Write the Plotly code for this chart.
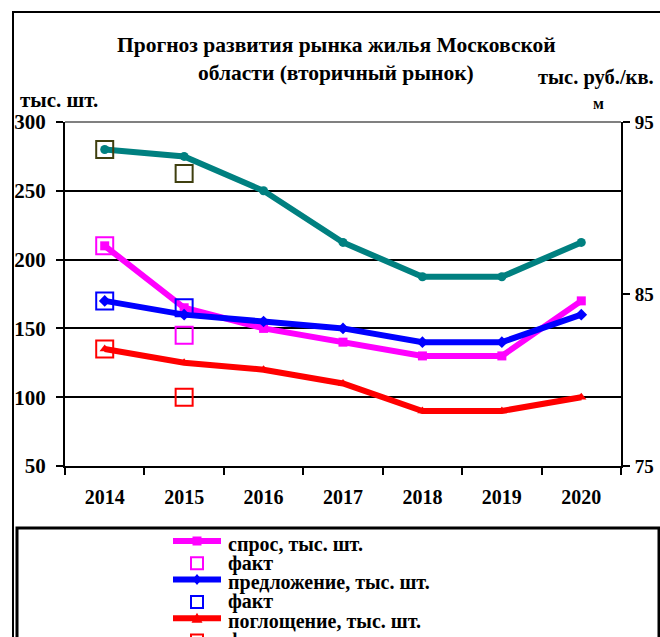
import plotly.graph_objects as go

years = ["2014", "2015", "2016", "2017", "2018", "2019", "2020"]
fact_years = ["2014", "2015"]

demand = [210, 165, 150, 140, 130, 130, 170]
demand_fact = [210, 145]
supply = [170, 160, 155, 150, 140, 140, 160]
supply_fact = [170, 165]
absorption = [135, 125, 120, 110, 90, 90, 100]
absorption_fact = [135, 100]
price = [93.4, 93.0, 91.0, 88.0, 86.0, 86.0, 88.0]
price_fact = [93.4, 92.0]

left_ticks = [50, 100, 150, 200, 250, 300]
right_ticks = [75, 85, 95]

# only the legend rows visible inside the 637px-high picture
legend_labels = ["спрос, тыс. шт.", "факт", "предложение, тыс. шт.", "факт",
                 "поглощение, тыс. шт.", "факт"]

FONT = "Liberation Serif"
MAG, BLU, RED, TEAL, OLIVE = "#FF00FF", "#0000FF", "#FF0000", "#008080", "#3F3F0F"

# plot area in pixels
PL, PR, PT, PB = 65, 621, 122, 466
PW, PH = PR - PL, PB - PT


def px(x):
    return (x - PL) / PW


def py(y):
    return (PB - y) / PH


fig = go.Figure()


def line(name, y, color, symbol, axis="y"):
    fig.add_trace(go.Scatter(
        x=years, y=y, name=name, mode="lines+markers", yaxis=axis,
        line=dict(color=color, width=6),
        marker=dict(symbol=symbol, size=9, color=color),
    ))


def fact(y, color, axis="y"):
    fig.add_trace(go.Scatter(
        x=fact_years, y=y, name="факт", mode="markers", yaxis=axis,
        marker=dict(symbol="square-open", size=17, color=color, line=dict(width=2, color=color)),
    ))


line("спрос, тыс. шт.", demand, MAG, "square")
fact(demand_fact, MAG)
line("предложение, тыс. шт.", supply, BLU, "diamond")
fact(supply_fact, BLU)
line("поглощение, тыс. шт.", absorption, RED, "triangle-up")
fact(absorption_fact, RED)
line("цена, тыс. руб./кв. м", price, TEAL, "circle", axis="y2")
fact(price_fact, OLIVE, axis="y2")

fig.update_layout(
    width=660, height=637,
    margin=dict(l=PL, r=660 - PR, t=PT, b=637 - PB, autoexpand=False),
    paper_bgcolor="white", plot_bgcolor="white",
    font=dict(family=FONT, size=18, color="black"),
    showlegend=False,
    xaxis=dict(
        type="category", range=[-0.5, 6.5],
        showline=True, linecolor="black", linewidth=2,
        ticks="outside", tickson="boundaries", ticklen=7, tickwidth=2, tickcolor="black",
        ticklabelstandoff=12,
        tickfont=dict(family=FONT, size=20, color="black", weight="bold"),
        showgrid=False,
    ),
    yaxis=dict(
        range=[50, 300], tickvals=left_ticks,
        showline=True, linecolor="black", linewidth=2,
        ticks="outside", ticklen=7, tickwidth=2, tickcolor="black",
        ticklabelstandoff=6,
        tickfont=dict(family=FONT, size=21, color="black", weight="bold"),
        showgrid=True, gridcolor="black", gridwidth=2, zeroline=False,
    ),
    yaxis2=dict(
        range=[75, 95], tickvals=right_ticks, overlaying="y", side="right",
        showline=True, linecolor="black", linewidth=2,
        ticks="outside", ticklen=7, tickwidth=2, tickcolor="black",
        ticklabelstandoff=1,
        tickfont=dict(family=FONT, size=19, color="black", weight="bold"),
        showgrid=False, zeroline=False,
    ),
)

# gray top boundary line of plot area
fig.add_shape(type="line", xref="paper", yref="paper", x0=0, x1=1, y0=1, y1=1,
              line=dict(color="#808080", width=2), layer="above")
# outer chart frame
fig.add_shape(type="rect", xref="paper", yref="paper",
              x0=px(13), x1=px(700), y0=py(12), y1=py(700),
              line=dict(color="black", width=2), layer="below")
# legend frame
fig.add_shape(type="rect", xref="paper", yref="paper",
              x0=px(17), x1=px(659), y0=py(528), y1=py(700),
              line=dict(color="black", width=3), layer="below")


def text(s, xpx, ypx, size, anchor="center"):
    fig.add_annotation(text=s, xref="paper", yref="paper",
                       x=px(xpx), y=py(ypx), showarrow=False,
                       xanchor=anchor, yanchor="middle",
                       font=dict(family=FONT, size=size, color="black", weight="bold"))


text("Прогноз развития рынка жилья Московской", 336, 45, 21.5)
text("области (вторичный рынок)", 336, 73, 21.5)
text("тыс. шт.", 18, 100, 21, anchor="left")
text("тыс. руб./кв.", 596, 77, 20.5)
text("м", 598, 104, 16)

# legend (drawn manually to match compact row spacing)
legend_styles = [
    ("line", MAG, "square"), ("fact", MAG, None),
    ("line", BLU, "diamond"), ("fact", BLU, None),
    ("line", RED, "triangle"), ("fact", RED, None),
]
row0, step = 544, 19.3
gx0, gx1, gxc = 173, 221, 197
for i, (label, (kind, color, sym)) in enumerate(zip(legend_labels, legend_styles)):
    yc = row0 + i * step
    if kind == "line":
        ly = yc - 3
        fig.add_shape(type="line", xref="paper", yref="paper",
                      x0=px(gx0), x1=px(gx1), y0=py(ly), y1=py(ly),
                      line=dict(color=color, width=6))
        r = 4.5
        if sym == "square":
            fig.add_shape(type="rect", xref="paper", yref="paper",
                          x0=px(gxc - r), x1=px(gxc + r), y0=py(ly - r), y1=py(ly + r),
                          fillcolor=color, line=dict(width=0))
        elif sym == "diamond":
            pts = [(gxc, ly - r - 1), (gxc + r, ly), (gxc, ly + r + 1), (gxc - r, ly)]
            path = "M " + " L ".join(f"{px(a)},{py(b)}" for a, b in pts) + " Z"
            fig.add_shape(type="path", xref="paper", yref="paper", path=path,
                          fillcolor=color, line=dict(width=0))
        else:
            pts = [(gxc, ly - r - 1), (gxc + r + 1, ly + r), (gxc - r - 1, ly + r)]
            path = "M " + " L ".join(f"{px(a)},{py(b)}" for a, b in pts) + " Z"
            fig.add_shape(type="path", xref="paper", yref="paper", path=path,
                          fillcolor=color, line=dict(width=0))
    else:
        s = 6
        fig.add_shape(type="rect", xref="paper", yref="paper",
                      x0=px(gxc - s), x1=px(gxc + s), y0=py(yc - s), y1=py(yc + s),
                      line=dict(color=color, width=2))
    text(label, 226, yc, 20, anchor="left")

fig.write_html("out.html")
